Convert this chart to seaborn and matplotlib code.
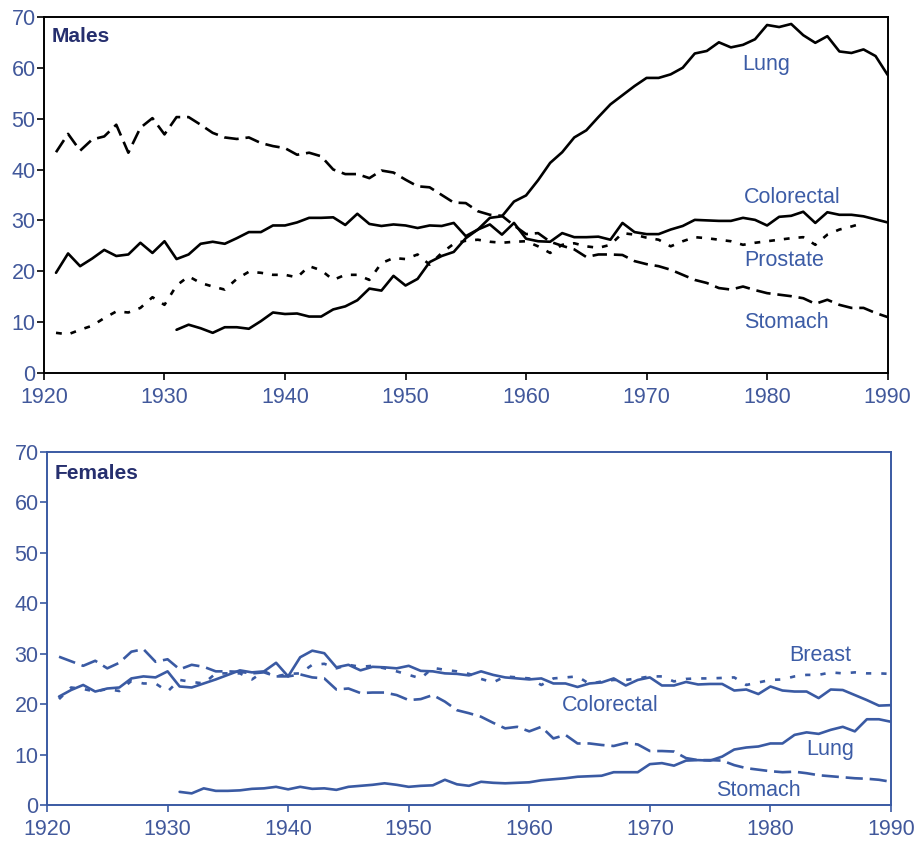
import matplotlib
matplotlib.use('Agg')
import matplotlib.pyplot as plt
import pandas as pd
import seaborn as sns

# death rates per 100,000
YEARS_ALL = list(range(1921, 1991))
YEARS_LUNG = list(range(1931, 1991))
YEARS_PROSTATE = list(range(1921, 1989))

male_colorectal = [
    19.7, 23.5, 21.0, 22.5, 24.2, 23.0, 23.3, 25.6, 23.6, 25.9,
    22.4, 23.3, 25.4, 25.8, 25.4, 26.5, 27.7, 27.7, 29.0, 29.0,
    29.6, 30.5, 30.5, 30.6, 29.1, 31.3, 29.3, 28.9, 29.2, 29.0,
    28.5, 29.0, 28.9, 29.5, 26.9, 28.2, 29.2, 27.2, 29.5, 26.4,
    25.9, 25.8, 27.5, 26.7, 26.7, 26.8, 26.2, 29.5, 27.7, 27.3,
    27.3, 28.2, 28.9, 30.1, 30.0, 29.9, 29.9, 30.5, 30.1, 29.0,
    30.7, 30.9, 31.7, 29.5, 31.6, 31.1, 31.1, 30.8, 30.2, 29.6]
male_lung = [
    8.5, 9.5, 8.8, 7.9, 9.0, 9.0, 8.7, 10.2, 11.9, 11.6,
    11.7, 11.1, 11.1, 12.5, 13.1, 14.3, 16.6, 16.2, 19.1, 17.2,
    18.5, 21.8, 23.0, 23.8, 26.5, 28.2, 30.5, 30.8, 33.7, 34.9,
    37.9, 41.3, 43.4, 46.3, 47.7, 50.3, 52.8, 54.6, 56.4, 58.0,
    58.0, 58.7, 60.0, 62.8, 63.3, 65.0, 64.0, 64.5, 65.6, 68.4,
    68.0, 68.6, 66.4, 64.9, 66.2, 63.2, 62.9, 63.6, 62.3, 58.6]
male_stomach = [
    43.4, 47.0, 43.7, 45.9, 46.5, 48.8, 43.3, 48.2, 50.1, 46.9,
    50.3, 50.3, 48.8, 47.2, 46.3, 46.0, 46.3, 45.2, 44.6, 44.2,
    42.9, 43.3, 42.6, 40.0, 39.1, 39.1, 38.3, 39.8, 39.4, 38.0,
    36.7, 36.5, 35.0, 33.5, 33.4, 31.8, 31.1, 30.9, 29.0, 27.3,
    27.5, 25.8, 25.0, 24.3, 22.8, 23.3, 23.3, 23.2, 22.0, 21.4,
    21.0, 20.3, 19.3, 18.3, 17.7, 16.7, 16.4, 17.0, 16.3, 15.7,
    15.4, 15.1, 14.7, 13.6, 14.4, 13.4, 12.8, 12.8, 11.8, 11.0]
male_prostate = [
    7.9, 7.6, 8.5, 9.3, 10.8, 12.1, 11.9, 12.8, 14.9, 13.4,
    17.2, 19.0, 17.7, 17.0, 16.4, 18.5, 19.9, 19.7, 19.3, 19.3,
    18.8, 21.0, 20.2, 18.3, 19.3, 19.3, 18.3, 21.6, 22.6, 22.4,
    23.3, 21.3, 23.6, 25.4, 26.0, 26.2, 25.8, 25.6, 25.8, 25.9,
    24.9, 23.6, 25.2, 25.5, 24.9, 24.6, 25.2, 27.5, 27.2, 26.6,
    26.2, 24.9, 25.9, 26.7, 26.5, 26.2, 25.9, 25.2, 25.6, 25.9,
    26.2, 26.5, 26.7, 25.2, 27.2, 28.2, 28.8, 29.5]

female_stomach = [
    29.4, 28.5, 27.6, 28.6, 27.1, 28.2, 30.4, 30.9, 28.4, 28.9,
    26.9, 27.8, 27.4, 26.5, 26.5, 26.4, 26.1, 26.3, 25.5, 25.5,
    25.9, 25.3, 25.1, 22.9, 23.1, 22.2, 22.3, 22.3, 21.8, 20.8,
    21.0, 21.8, 20.5, 18.8, 18.2, 17.5, 16.3, 15.2, 15.5, 14.6,
    15.5, 13.2, 13.9, 12.2, 12.2, 11.9, 11.7, 12.3, 12.0, 10.7,
    10.7, 10.6, 9.3, 8.9, 8.9, 8.8, 7.9, 7.3, 7.0, 6.7,
    6.5, 6.6, 6.3, 5.9, 5.7, 5.5, 5.3, 5.2, 5.0, 4.6]
female_colorectal = [
    21.5, 22.8, 23.8, 22.5, 23.1, 23.3, 25.1, 25.5, 25.3, 26.5,
    23.5, 23.3, 24.1, 24.9, 25.8, 26.7, 26.3, 26.5, 28.2, 25.5,
    29.3, 30.6, 30.1, 27.3, 27.8, 26.7, 27.4, 27.3, 27.1, 27.6,
    26.6, 26.5, 26.1, 26.0, 25.7, 26.5, 25.8, 25.3, 25.1, 24.9,
    25.1, 24.1, 24.1, 23.4, 24.1, 24.3, 25.1, 23.7, 24.8, 25.3,
    23.7, 23.7, 24.4, 23.9, 24.0, 24.0, 22.7, 22.9, 22.0, 23.5,
    22.7, 22.5, 22.5, 21.2, 22.9, 22.8, 21.8, 20.8, 19.7, 19.8]
female_breast = [
    21.0, 23.3, 23.0, 22.5, 23.0, 22.6, 24.6, 24.1, 24.1, 22.5,
    24.8, 24.4, 24.1, 26.1, 26.1, 26.1, 24.9, 26.5, 25.5, 26.0,
    26.1, 27.8, 28.0, 27.1, 27.8, 27.4, 27.6, 27.1, 26.5, 25.8,
    25.1, 27.2, 26.8, 26.5, 26.0, 25.0, 24.3, 25.5, 25.3, 25.1,
    23.8, 25.1, 25.3, 25.5, 24.0, 24.5, 24.8, 24.8, 25.1, 25.5,
    25.5, 24.5, 25.0, 25.1, 25.1, 25.2, 25.3, 23.8, 24.3, 24.8,
    24.9, 25.5, 25.8, 25.8, 26.3, 26.1, 26.3, 26.1, 26.1, 26.0]
female_lung = [
    2.6, 2.3, 3.3, 2.8, 2.8, 2.9, 3.2, 3.3, 3.6, 3.1,
    3.6, 3.2, 3.3, 3.0, 3.6, 3.8, 4.0, 4.3, 4.0, 3.6,
    3.8, 3.9, 5.0, 4.1, 3.8, 4.6, 4.4, 4.3, 4.4, 4.5,
    4.9, 5.1, 5.3, 5.6, 5.7, 5.8, 6.5, 6.5, 6.5, 8.1,
    8.3, 7.8, 8.8, 8.9, 8.8, 9.6, 11.0, 11.4, 11.6, 12.2,
    12.2, 13.9, 14.4, 14.1, 14.9, 15.5, 14.6, 17.0, 17.0, 16.5]

X_TICKS = list(range(1920, 2000, 10))
Y_TICKS = list(range(0, 80, 10))

NAVY = '#262f6e'
LABEL_BLUE = '#3c5ca6'
TICK_BLUE = '#41589b'
LINE_BLUE = '#3a5aa3'


def long_df(series):
    frames = [pd.DataFrame({'year': yrs, 'rate': vals, 'site': name})
              for name, (yrs, vals) in series.items()]
    return pd.concat(frames, ignore_index=True)


males_df = long_df({
    'Lung': (YEARS_LUNG, male_lung),
    'Colorectal': (YEARS_ALL, male_colorectal),
    'Prostate': (YEARS_PROSTATE, male_prostate),
    'Stomach': (YEARS_ALL, male_stomach),
})
females_df = long_df({
    'Breast': (YEARS_ALL, female_breast),
    'Colorectal': (YEARS_ALL, female_colorectal),
    'Lung': (YEARS_LUNG, female_lung),
    'Stomach': (YEARS_ALL, female_stomach),
})

sns.set_style('ticks')
plt.rcParams['font.family'] = ['Liberation Sans', 'DejaVu Sans']

fig = plt.figure(figsize=(9.16, 8.43), dpi=100)
ax_m = fig.add_axes([0.048, 0.5575, 0.921, 0.4225])
ax_f = fig.add_axes([0.0513, 0.0451, 0.9214, 0.4187])

sns.lineplot(data=males_df, x='year', y='rate', style='site',
             dashes={'Lung': '', 'Colorectal': '', 'Prostate': (2.2, 3.4),
                     'Stomach': (5.5, 2.6)},
             color='black', linewidth=1.9, estimator=None, legend=False,
             ax=ax_m)
sns.lineplot(data=females_df, x='year', y='rate', style='site',
             dashes={'Breast': (2.0, 3.8), 'Colorectal': '', 'Lung': '',
                     'Stomach': (6.5, 2.6)},
             color=LINE_BLUE, linewidth=1.9, estimator=None, legend=False,
             ax=ax_f)

for ax, frame_col in [(ax_m, 'black'), (ax_f, LINE_BLUE)]:
    ax.set_xlim(1920, 1990)
    ax.set_ylim(0, 70)
    ax.set_xticks(X_TICKS)
    ax.set_yticks(Y_TICKS)
    ax.set_xlabel('')
    ax.set_ylabel('')
    for spine in ax.spines.values():
        spine.set_visible(True)
        spine.set_color(frame_col)
        spine.set_linewidth(1.4)
    ax.tick_params(axis='both', direction='out', length=5, width=1.2,
                   color=frame_col, labelcolor=TICK_BLUE, labelsize=15.5)
    ax.tick_params(axis='x', pad=5)
    ax.tick_params(axis='y', pad=1)

# panel titles
ax_m.text(0.0095, 0.944, 'Males', transform=ax_m.transAxes, fontsize=15,
          fontweight='bold', color=NAVY, va='center', ha='left')
ax_f.text(0.0095, 0.94, 'Females', transform=ax_f.transAxes, fontsize=15,
          fontweight='bold', color=NAVY, va='center', ha='left')

# direct line labels
lab_kws = dict(fontsize=15.5, color=LABEL_BLUE, va='center', ha='left')
ax_m.text(1977.9, 60.6, 'Lung', **lab_kws)
ax_m.text(1978.1, 34.4, 'Colorectal', **lab_kws)
ax_m.text(1978.1, 22.2, 'Prostate', **lab_kws)
ax_m.text(1978.1, 10.0, 'Stomach', **lab_kws)

ax_f.text(1981.6, 29.6, 'Breast', **lab_kws)
ax_f.text(1962.7, 19.8, 'Colorectal', **lab_kws)
ax_f.text(1983.0, 11.1, 'Lung', **lab_kws)
ax_f.text(1975.5, 2.8, 'Stomach', **lab_kws)

fig.savefig('out.png', dpi=100)
